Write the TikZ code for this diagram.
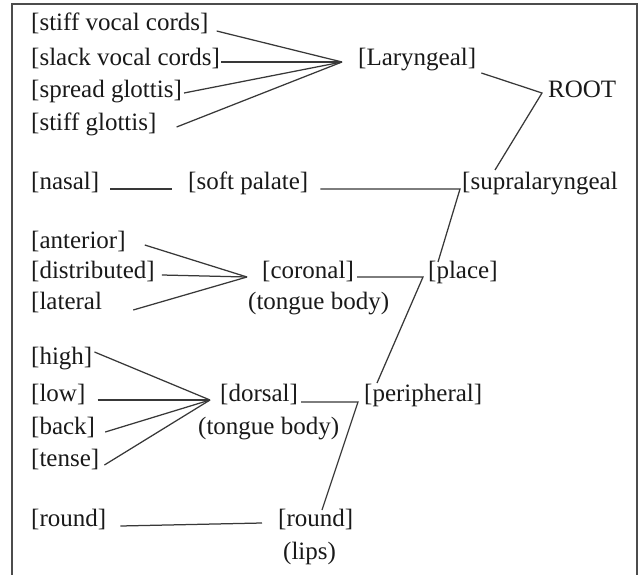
\documentclass[tikz,border=0pt]{standalone}
\usepackage{fontspec}
\setmainfont{Liberation Serif}
\usetikzlibrary{calc}
\begin{document}
\begin{tikzpicture}[x=1pt,y=-1pt,
  lbl/.style={anchor=west,inner sep=0pt,text height=16pt,text depth=4pt,
    font=\fontsize{25}{29}\selectfont,text=black!90},
  link/.style={line width=1.25pt,draw=black!78},
  frame/.style={line width=1.4pt,draw=black!70}]
\useasboundingbox (0,0) rectangle (642,575);
\draw[frame] (12,4) rectangle (637,585);

% laryngeal branch
\node[lbl] (svc) at (31,25) {[stiff vocal cords]};
\node[lbl] (slvc) at (31,60) {[slack vocal cords]};
\node[lbl] (spg) at (31,92) {[spread glottis]};
\node[lbl] (stg) at (31,125) {[stiff glottis]};
\node[lbl] (lar) at (358,60) {[Laryngeal]};
\node[lbl] (root) at (548,92) {ROOT};
\coordinate (larj) at (342,62);
\coordinate (rootj) at (542,93);

% supralaryngeal branch
\node[lbl] (nasal) at (31,183) {[nasal]};
\node[lbl] (soft) at (188,183) {[soft palate]};
\node[lbl] (supra) at (462,183) {[supralaryngeal};
\coordinate (supj) at (460,189);

% coronal
\node[lbl] (ant) at (31,242) {[anterior]};
\node[lbl] (dist) at (31,272) {[distributed]};
\node[lbl] (lat) at (31,303) {[lateral};
\node[lbl] (cor) at (262,272) {[coronal]};
\node[lbl] (corsub) at (248,303) {(tongue body)};
\node[lbl] (place) at (428,272) {[place]};
\coordinate (corj) at (247,277);
\coordinate (placej) at (423,277);

% dorsal
\node[lbl] (high) at (31,358) {[high]};
\node[lbl] (low) at (31,395) {[low]};
\node[lbl] (back) at (31,428) {[back]};
\node[lbl] (tense) at (31,460) {[tense]};
\node[lbl] (dor) at (220,395) {[dorsal]};
\node[lbl] (dorsub) at (198,428) {(tongue body)};
\node[lbl] (peri) at (364,395) {[peripheral]};
\coordinate (dorj) at (210,400);
\coordinate (perij) at (358,402);

% labial
\node[lbl] (rnd) at (31,520) {[round]};
\node[lbl] (rndl) at (278,520) {[round]};
\node[lbl] (lips) at (283,553) {(lips)};

% laryngeal links
\draw[link] ($(svc.east)+(8,6)$) -- (larj);
\draw[link] ($(slvc.east)+(1,2)$) -- (larj);
\draw[link] ($(spg.east)+(2,1)$) -- (larj);
\draw[link] ($(stg.east)+(20,2)$) -- (larj);
\draw[link] ($(lar.east)+(5,13)$) -- (rootj) -- ($(supra.west)+(33,-13)$);

% supralaryngeal links
\draw[link] ($(nasal.east)+(11,6)$) -- ($(soft.west)+(-16,6)$);
\draw[link] ($(soft.east)+(12,6)$) -- (supj) -- ($(place.west)+(10,-10)$);

% coronal links
\draw[link] ($(ant.east)+(19,3)$) -- (corj);
\draw[link] ($(dist.east)+(7,3)$) -- (corj);
\draw[link] ($(lat.east)+(31,7)$) -- (corj);
\draw[link] ($(cor.east)+(3,5)$) -- (placej) -- ($(peri.west)+(13,-12)$);

% dorsal links
\draw[link] ($(high.east)+(2,-6)$) -- (dorj);
\draw[link] ($(low.east)+(12,5)$) -- (dorj);
\draw[link] ($(back.east)+(10,4)$) -- (dorj);
\draw[link] ($(tense.east)+(5,5)$) -- (dorj);
\draw[link] ($(dor.east)+(3,7)$) -- (perij) -- ($(rndl.west)+(44,-10)$);

% labial link
\draw[link] ($(rnd.east)+(14,6)$) -- ($(rndl.west)+(-16,3)$);
\end{tikzpicture}
\end{document}
